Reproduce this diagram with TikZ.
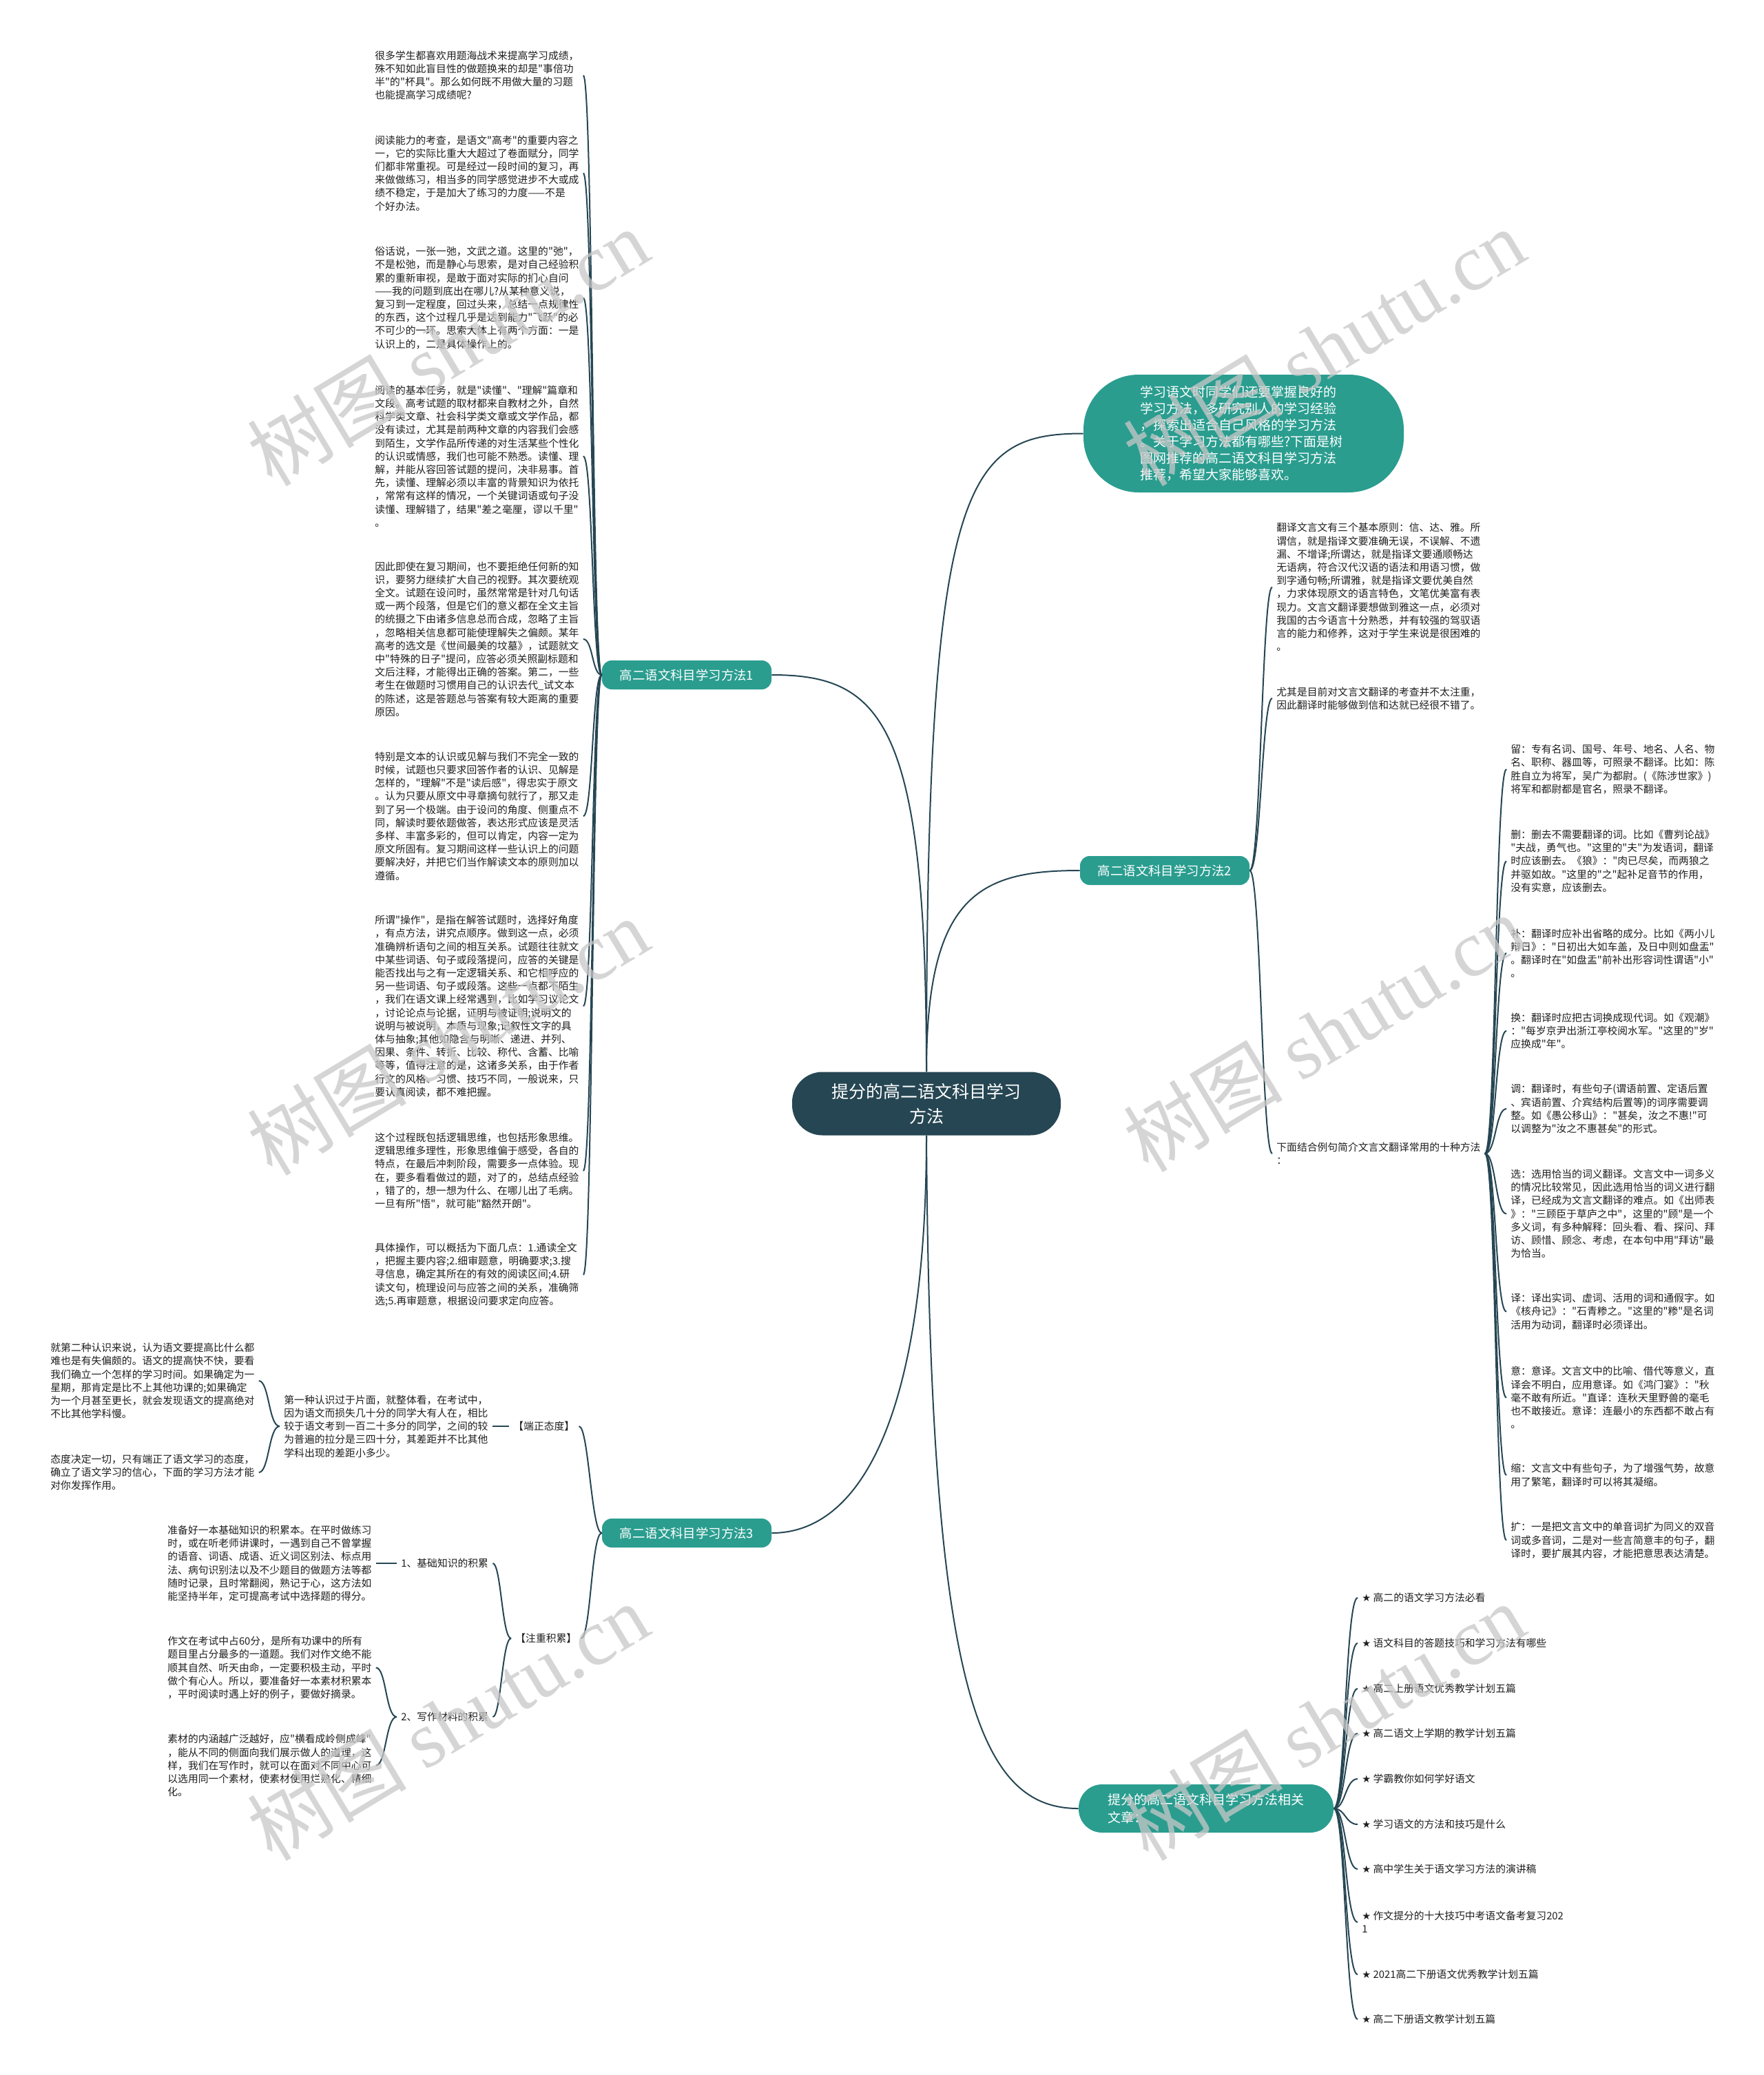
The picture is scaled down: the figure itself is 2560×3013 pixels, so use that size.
\documentclass[tikz,border=0pt]{standalone}
\usepackage{fontspec}
\setmainfont{Noto Sans CJK SC}[Ligatures=TeXOff]
\newfontfamily\symfont{DejaVu Sans}
\newfontfamily\wmlatin{Liberation Serif}
\newcommand\starmark{{\symfont\fontsize{7.2pt}{9.6pt}\selectfont ★}}
\definecolor{navy}{RGB}{38,70,83}
\definecolor{tealb}{RGB}{42,157,143}
\definecolor{wmgray}{RGB}{200,200,200}
\begin{document}
\begin{tikzpicture}[x=0.5pt,y=-0.5pt,
  conn/.style={draw=navy,line width=1pt},
  body/.style={inner xsep=3pt,inner ysep=0pt,align=left,text=black!88,font=\fontsize{7.4pt}{9.6pt}\selectfont,anchor=west},
  bodyw/.style={body,text width=148pt},
  branch/.style={fill=tealb,text=white,rounded corners=7pt,minimum width=123pt,minimum height=21pt,inner sep=0pt,font=\fontsize{9.2pt}{11pt}\selectfont},
  centernode/.style={fill=navy,text=white,rounded corners=22pt,minimum width=195pt,minimum height=46pt,inner sep=0pt,align=center,font=\fontsize{12.5pt}{18pt}\selectfont},
  intronode/.style={fill=tealb,text=white,rounded corners=40pt,minimum width=232.5pt,minimum height=85.5pt,inner sep=0pt,text width=150pt,align=left,font=\fontsize{9.5pt}{12pt}\selectfont},
  relnode/.style={fill=tealb,text=white,rounded corners=17pt,minimum width=185pt,minimum height=35pt,inner sep=0pt,text width=143pt,align=left,font=\fontsize{9.5pt}{13pt}\selectfont},
  watermark/.style={rotate=31,text=wmgray,opacity=0.75,font=\fontsize{58pt}{60pt}\selectfont}
]
\fill[white] (0,0) rectangle (2560,3013);
\useasboundingbox (0,0) rectangle (2560,3013);

% main nodes
\node[centernode] (ctr) at (1345,1602.5) {提分的高二语文科目学习\\方法};
\node[intronode] (intro) at (1805.5,629.5) {学习语文时同学们还要掌握良好的\\学习方法，多研究别人的学习经验\\，探索出适合自己风格的学习方法\\。关于学习方法都有哪些?下面是树\\图网推荐的高二语文科目学习方法\\推荐，希望大家能够喜欢。};
\node[branch] (m1) at (997,980) {高二语文科目学习方法1};
\node[branch] (m2) at (1691,1264) {高二语文科目学习方法2};
\node[branch] (m3) at (997,2226) {高二语文科目学习方法3};
\node[relnode] (rel) at (1751,2626) {提分的高二语文科目学习方法相关\\文章：};

\draw[conn] (ctr.north) .. controls +(0,-856) and +(-173,0) .. (intro.west);
\draw[conn] (ctr.north) .. controls +(0,-256) and +(-146,0) .. (m2.west);
\draw[conn] (ctr.north) .. controls +(0,-506) and +(161,0) .. (m1.east);
\draw[conn] (ctr.south) .. controls +(0,402) and +(131,0) .. (m3.east);
\draw[conn] (ctr.south) .. controls +(5,802) and +(-146,0) .. (rel.west);

% branch 1 children
\node[bodyw] (L1) at (538,109.5) {很多学生都喜欢用题海战术来提高学习成绩，\\殊不知如此盲目性的做题换来的却是"事倍功\\半"的"杯具"。那么如何既不用做大量的习题\\也能提高学习成绩呢?};
\node[bodyw] (L2) at (538,251.5) {阅读能力的考查，是语文"高考"的重要内容之\\一，它的实际比重大大超过了卷面赋分，同学\\们都非常重视。可是经过一段时间的复习，再\\来做做练习，相当多的同学感觉进步不大或成\\绩不稳定，于是加大了练习的力度——不是\\个好办法。};
\node[bodyw] (L3) at (538,432.5) {俗话说，一张一弛，文武之道。这里的"弛"，\\不是松弛，而是静心与思索，是对自己经验积\\累的重新审视，是敢于面对实际的扪心自问\\——我的问题到底出在哪儿?从某种意义说，\\复习到一定程度，回过头来，总结一点规律性\\的东西，这个过程几乎是达到能力"飞跃"的必\\不可少的一环。思索大体上有两个方面：一是\\认识上的，二是具体操作上的。};
\node[bodyw] (L4) at (538,662.5) {阅读的基本任务，就是"读懂"、"理解"篇章和\\文段。高考试题的取材都来自教材之外，自然\\科学类文章、社会科学类文章或文学作品，都\\没有读过，尤其是前两种文章的内容我们会感\\到陌生，文学作品所传递的对生活某些个性化\\的认识或情感，我们也可能不熟悉。读懂、理\\解，并能从容回答试题的提问，决非易事。首\\先，读懂、理解必须以丰富的背景知识为依托\\，常常有这样的情况，一个关键词语或句子没\\读懂、理解错了，结果"差之毫厘，谬以千里"\\。};
\node[bodyw] (L5) at (538,928) {因此即使在复习期间，也不要拒绝任何新的知\\识，要努力继续扩大自己的视野。其次要统观\\全文。试题在设问时，虽然常常是针对几句话\\或一两个段落，但是它们的意义都在全文主旨\\的统摄之下由诸多信息总而合成，忽略了主旨\\，忽略相关信息都可能使理解失之偏颇。某年\\高考的选文是《世间最美的坟墓》，试题就文\\中"特殊的日子"提问，应答必须关照副标题和\\文后注释，才能得出正确的答案。第二，一些\\考生在做题时习惯用自己的认识去代\_试文本\\的陈述，这是答题总与答案有较大距离的重要\\原因。};
\node[bodyw] (L6) at (538,1185) {特别是文本的认识或见解与我们不完全一致的\\时候，试题也只要求回答作者的认识、见解是\\怎样的，"理解"不是"读后感"，得忠实于原文\\。认为只要从原文中寻章摘句就行了，那又走\\到了另一个极端。由于设问的角度、侧重点不\\同，解读时要依题做答，表达形式应该是灵活\\多样、丰富多彩的，但可以肯定，内容一定为\\原文所固有。复习期间这样一些认识上的问题\\要解决好，并把它们当作解读文本的原则加以\\遵循。};
\node[bodyw] (L7) at (538,1461) {所谓"操作"，是指在解答试题时，选择好角度\\，有点方法，讲究点顺序。做到这一点，必须\\准确辨析语句之间的相互关系。试题往往就文\\中某些词语、句子或段落提问，应答的关键是\\能否找出与之有一定逻辑关系、和它相呼应的\\另一些词语、句子或段落。这些一点都不陌生\\，我们在语文课上经常遇到，比如学习议论文\\，讨论论点与论据，证明与被证明;说明文的\\说明与被说明，本质与现象;记叙性文字的具\\体与抽象;其他如隐含与明晰、递进、并列、\\因果、条件、转折、比较、称代、含蓄、比喻\\等等，值得注意的是，这诸多关系，由于作者\\行文的风格、习惯、技巧不同，一般说来，只\\要认真阅读，都不难把握。};
\node[bodyw] (L8) at (538,1700) {这个过程既包括逻辑思维，也包括形象思维。\\逻辑思维多理性，形象思维偏于感受，各自的\\特点，在最后冲刺阶段，需要多一点体验。现\\在，要多看看做过的题，对了的，总结点经验\\，错了的，想一想为什么、在哪儿出了毛病。\\一旦有所"悟"，就可能"豁然开朗"。};
\node[bodyw] (L9) at (538,1851) {具体操作，可以概括为下面几点：1.通读全文\\，把握主要内容;2.细审题意，明确要求;3.搜\\寻信息，确定其所在的有效的阅读区间;4.研\\读文句，梳理设问与应答之间的关系，准确筛\\选;5.再审题意，根据设问要求定向应答。};
\foreach \n in {L1,L2,L3,L4,L5,L6,L7,L8,L9}
  \draw[conn] (m1.west) .. controls +(-14,0) and +(14,0) .. (\n.east);

% branch 2 children
\node[body] (Ra) at (1847,852.5) {翻译文言文有三个基本原则：信、达、雅。所\\谓信，就是指译文要准确无误，不误解、不遗\\漏、不增译;所谓达，就是指译文要通顺畅达\\无语病，符合汉代汉语的语法和用语习惯，做\\到字通句畅;所谓雅，就是指译文要优美自然\\，力求体现原文的语言特色，文笔优美富有表\\现力。文言文翻译要想做到雅这一点，必须对\\我国的古今语言十分熟悉，并有较强的驾驭语\\言的能力和修养，这对于学生来说是很困难的\\。};
\node[body] (Rb) at (1847,1014) {尤其是目前对文言文翻译的考查并不太注重，\\因此翻译时能够做到信和达就已经很不错了。};
\node[body] (Rc) at (1847,1675) {下面结合例句简介文言文翻译常用的十种方法\\：};
\foreach \n in {Ra,Rb,Rc}
  \draw[conn] (m2.east) .. controls +(16,0) and +(-15,0) .. (\n.west);

\node[bodyw] (T1) at (2187,1117) {留：专有名词、国号、年号、地名、人名、物\\名、职称、器皿等，可照录不翻译。比如：陈\\胜自立为将军，吴广为都尉。(《陈涉世家》)\\将军和都尉都是官名，照录不翻译。};
\node[bodyw] (T2) at (2187,1250.5) {删：删去不需要翻译的词。比如《曹刿论战》\\"夫战，勇气也。"这里的"夫"为发语词，翻译\\时应该删去。《狼》："肉已尽矣，而两狼之\\并驱如故。"这里的"之"起补足音节的作用，\\没有实意，应该删去。};
\node[bodyw] (T3) at (2187,1384) {补：翻译时应补出省略的成分。比如《两小儿\\辩日》："日初出大如车盖，及日中则如盘盂"\\。翻译时在"如盘盂"前补出形容词性谓语"小"\\。};
\node[bodyw] (T4) at (2187,1497) {换：翻译时应把古词换成现代词。如《观潮》\\："每岁京尹出浙江亭校阅水军。"这里的"岁"\\应换成"年"。};
\node[bodyw] (T5) at (2187,1610) {调：翻译时，有些句子(谓语前置、定语后置\\、宾语前置、介宾结构后置等)的词序需要调\\整。如《愚公移山》："甚矣，汝之不惠!"可\\以调整为"汝之不惠甚矣"的形式。};
\node[bodyw] (T6) at (2187,1762.5) {选：选用恰当的词义翻译。文言文中一词多义\\的情况比较常见，因此选用恰当的词义进行翻\\译，已经成为文言文翻译的难点。如《出师表\\》："三顾臣于草庐之中"，这里的"顾"是一个\\多义词，有多种解释：回头看、看、探问、拜\\访、顾惜、顾念、考虑，在本句中用"拜访"最\\为恰当。};
\node[bodyw] (T7) at (2187,1904.5) {译：译出实词、虚词、活用的词和通假字。如\\《核舟记》："石青糁之。"这里的"糁"是名词\\活用为动词，翻译时必须译出。};
\node[bodyw] (T8) at (2187,2029.5) {意：意译。文言文中的比喻、借代等意义，直\\译会不明白，应用意译。如《鸿门宴》："秋\\毫不敢有所近。"直译：连秋天里野兽的毫毛\\也不敢接近。意译：连最小的东西都不敢占有\\。};
\node[bodyw] (T9) at (2187,2142) {缩：文言文中有些句子，为了增强气势，故意\\用了繁笔，翻译时可以将其凝缩。};
\node[bodyw] (T10) at (2187,2236.5) {扩：一是把文言文中的单音词扩为同义的双音\\词或多音词，二是对一些言简意丰的句子，翻\\译时，要扩展其内容，才能把意思表达清楚。};
\foreach \n in {T1,T2,T3,T4,T5,T6,T7,T8,T9,T10}
  \draw[conn] (Rc.east) .. controls +(16,0) and +(-16,0) .. (\n.west);

% branch 3 children
\node[body] (E1) at (739,2071) {【端正态度】};
\node[body] (E2) at (742,2379) {【注重积累】};
\draw[conn] (m3.west) .. controls +(-15,0) and +(14,0) .. (E1.east);
\draw[conn] (m3.west) .. controls +(-15,0) and +(14,0) .. (E2.east);

\node[body] (F) at (406,2071) {第一种认识过于片面，就整体看，在考试中，\\因为语文而损失几十分的同学大有人在，相比\\较于语文考到一百二十多分的同学，之间的较\\为普遍的拉分是三四十分，其差距并不比其他\\学科出现的差距小多少。};
\draw[conn] (F.east) -- (E1.west);
\node[bodyw] (A) at (67,2005) {就第二种认识来说，认为语文要提高比什么都\\难也是有失偏颇的。语文的提高快不快，要看\\我们确立一个怎样的学习时间。如果确定为一\\星期，那肯定是比不上其他功课的;如果确定\\为一个月甚至更长，就会发现语文的提高绝对\\不比其他学科慢。};
\node[bodyw] (B) at (67,2138) {态度决定一切，只有端正了语文学习的态度，\\确立了语文学习的信心，下面的学习方法才能\\对你发挥作用。};
\draw[conn] (F.west) .. controls +(-16,0) and +(15,0) .. (A.east);
\draw[conn] (F.west) .. controls +(-16,0) and +(15,0) .. (B.east);

\node[body] (G1) at (576,2270) {1、基础知识的积累};
\node[body] (G2) at (576,2493) {2、写作材料的积累};
\draw[conn] (E2.west) .. controls +(-13,0) and +(12,0) .. (G1.east);
\draw[conn] (E2.west) .. controls +(-13,0) and +(12,0) .. (G2.east);
\node[bodyw] (H) at (237,2270) {准备好一本基础知识的积累本。在平时做练习\\时，或在听老师讲课时，一遇到自己不曾掌握\\的语音、词语、成语、近义词区别法、标点用\\法、病句识别法以及不少题目的做题方法等都\\随时记录，且时常翻阅，熟记于心，这方法如\\能坚持半年，定可提高考试中选择题的得分。};
\draw[conn] (H.east) -- (G1.west);
\node[bodyw] (C1) at (237,2421.5) {作文在考试中占60分，是所有功课中的所有\\题目里占分最多的一道题。我们对作文绝不能\\顺其自然、听天由命，一定要积极主动，平时\\做个有心人。所以，要准备好一本素材积累本\\，平时阅读时遇上好的例子，要做好摘录。};
\node[bodyw] (D1) at (237,2563.5) {素材的内涵越广泛越好，应"横看成岭侧成峰"\\，能从不同的侧面向我们展示做人的道理，这\\样，我们在写作时，就可以在面对不同中心可\\以选用同一个素材，使素材使用烂熟化、精细\\化。};
\draw[conn] (G2.west) .. controls +(-16,0) and +(15,0) .. (C1.east);
\draw[conn] (G2.west) .. controls +(-16,0) and +(15,0) .. (D1.east);

% related articles
\node[body] (I1) at (1971,2320) {\starmark\ 高二的语文学习方法必看};
\node[body] (I2) at (1971,2386) {\starmark\ 语文科目的答题技巧和学习方法有哪些};
\node[body] (I3) at (1971,2452) {\starmark\ 高二上册语文优秀教学计划五篇};
\node[body] (I4) at (1971,2517) {\starmark\ 高二语文上学期的教学计划五篇};
\node[body] (I5) at (1971,2583) {\starmark\ 学霸教你如何学好语文};
\node[body] (I6) at (1971,2649) {\starmark\ 学习语文的方法和技巧是什么};
\node[body] (I7) at (1971,2714) {\starmark\ 高中学生关于语文学习方法的演讲稿};
\node[body] (I8) at (1971,2791) {\starmark\ 作文提分的十大技巧中考语文备考复习202\\1};
\node[body] (I9) at (1971,2867) {\starmark\ 2021高二下册语文优秀教学计划五篇};
\node[body] (I10) at (1971,2932) {\starmark\ 高二下册语文教学计划五篇};
\foreach \n in {I1,I2,I3,I4,I5,I6,I7,I8,I9,I10}
  \draw[conn] (rel.east) .. controls +(17,0) and +(-18,0) .. (\n.west);

% watermarks
\foreach \wx/\wy in {650/504,1922/504,650/1505,1922/1500,650/2500,1922/2500}
  \node[watermark] at (\wx,\wy) {树图 {\wmlatin shutu.cn}};
\end{tikzpicture}
\end{document}
